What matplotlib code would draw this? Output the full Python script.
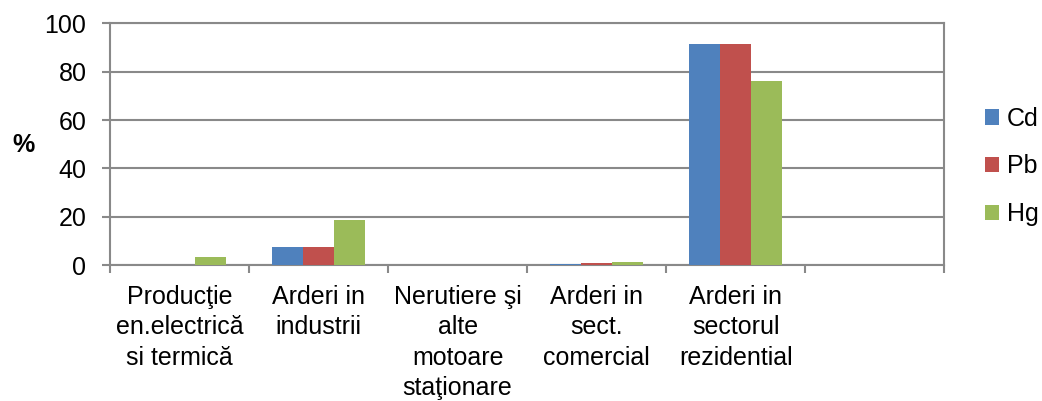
import numpy as np
import matplotlib.pyplot as plt
from matplotlib.ticker import FixedLocator, NullFormatter

plt.rcParams['font.family'] = ['Liberation Sans', 'DejaVu Sans']

categories = ['Producţie\nen.electrică\nsi termică', 'Arderi in\nindustrii',
              'Nerutiere şi\nalte\nmotoare\nstaţionare', 'Arderi in\nsect.\ncomercial',
              'Arderi in\nsectorul\nrezidential', '']
series = ['Cd', 'Pb', 'Hg']
cd = [0, 7.5, 0, 0.4, 91.7, 0]
pb = [0, 7.5, 0, 0.8, 91.4, 0]
hg = [3.3, 18.7, 0, 1.2, 76.3, 0]
colors = ['#4F81BD', '#C0504D', '#9BBB59']
yticks = [0, 20, 40, 60, 80, 100]

fig = plt.figure(figsize=(10.42, 4.01), dpi=100)
ax = fig.add_axes([0.1056, 0.339, 0.8005, 0.6025])

x = np.arange(len(categories))
w = 0.223
for i, (vals, name) in enumerate(zip([cd, pb, hg], series)):
    ax.bar(x + (i - 1) * w, vals, w, color=colors[i], label=name, zorder=3)

ax.set_xlim(-0.5, len(categories) - 0.5)
ax.set_ylim(0, 100)
ax.set_yticks(yticks)
ax.yaxis.grid(True, color='#898989', linewidth=1.5, zorder=0)

ax.xaxis.set_major_locator(FixedLocator(np.arange(len(categories) + 1) - 0.5))
ax.xaxis.set_major_formatter(NullFormatter())
ax.xaxis.set_minor_locator(FixedLocator(x))
ax.set_xticklabels(categories, minor=True, fontsize=18, linespacing=1.35)
ax.tick_params(axis='x', which='major', length=6, width=1.5, color='#898989')
ax.tick_params(axis='x', which='minor', length=0, pad=14)
ax.tick_params(axis='y', length=6, width=1.5, color='#898989', labelsize=18, pad=11)

for s in ax.spines.values():
    s.set_color('#898989')
    s.set_linewidth(1.5)

fig.text(0.012, 0.638, '%', fontsize=18, fontweight='bold', ha='left', va='center')

ax.legend(loc='center left', bbox_to_anchor=(0.945, 0.585), bbox_transform=fig.transFigure,
          frameon=False, fontsize=18, handlelength=0.58, handleheight=0.58,
          handletextpad=0.3, labelspacing=0.95, borderaxespad=0, borderpad=0)

fig.savefig('out.png', dpi=100)
